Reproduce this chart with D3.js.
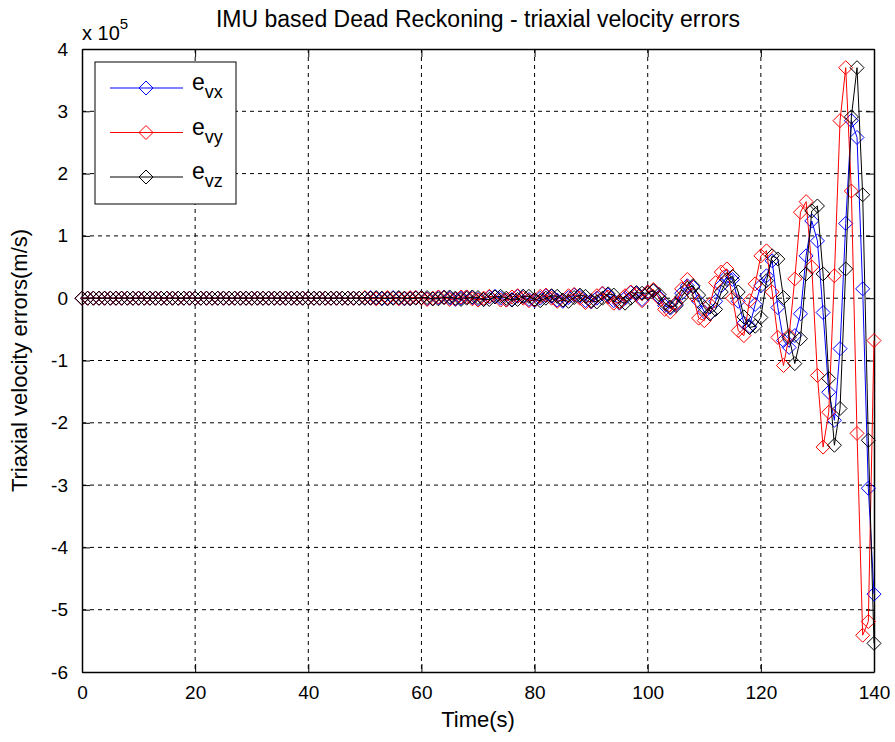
<!DOCTYPE html>
<html>
<head>
<meta charset="utf-8">
<script src="https://cdn.jsdelivr.net/npm/d3@7"></script>
<style>
  body { margin: 0; background: #fff; }
  text { font-family: "Liberation Sans", Arial, sans-serif; }
</style>
</head>
<body>
<script>
// time axis, one sample per second
var time = d3.range(0, 141);

// errors in units of 1e5 m/s
var evx = [
  0,0,0,0,0,0,0,0,0,0, 0,0,0,0,0,0,0,0,0,0,
  0,0,0,0,0,0,0,0,0,0, 0,0,0,0,0,0,0,0,0,0,
  0,0,0,0,0,0,0,0,0,0,
  0,0.01,0,-0.01,0,0.01,0,-0.01,0,0.01,
  0.01,-0.01,-0.01,0.01,0.02,0,-0.02,0,0.02,0.01,
  -0.02,-0.02,0.02,0.03,0,-0.03,-0.02,0.03,0.03,-0.02,
  -0.04,0,0.04,0.03,-0.03,-0.05,0.01,0.05,0.03,-0.04,
  -0.06,0,0.07,0.05,-0.04,-0.08,0,0.09,0.08,-0.02,
  0.1,0.12,0.02,-0.12,-0.16,-0.1,0.08,0.2,0.18,-0.05,
  -0.22,-0.25,-0.05,0.2,0.35,0.3,-0.05,-0.4,-0.45,-0.1,
  0.2,0.36,0.6,-0.15,-0.68,-0.79,-0.6,-0.25,0.68,1.24,
  0.92,-0.23,-1.51,-1.96,-0.81,1.2,2.85,2.58,0.15,-3.05,
  -4.75
];
var evy = [
  0,0,0,0,0,0,0,0,0,0, 0,0,0,0,0,0,0,0,0,0,
  0,0,0,0,0,0,0,0,0,0, 0,0,0,0,0,0,0,0,0,0,
  0,0,0,0,0,0,0,0,0,0,
  0.01,0,-0.01,0,0.01,0,-0.01,0,0.01,0.01,
  0,-0.02,0,0.02,0.01,-0.02,-0.01,0.02,0.02,-0.01,
  -0.03,0,0.03,0.02,-0.03,-0.03,0.02,0.04,0,-0.04,
  -0.03,0.03,0.05,0,-0.05,-0.03,0.04,0.06,0,-0.07,
  -0.05,0.04,0.08,0.02,-0.08,-0.07,0.04,0.1,0.06,-0.04,
  0.1,0.14,0,-0.18,-0.22,-0.08,0.15,0.3,0.05,-0.32,
  -0.36,-0.1,0.25,0.42,0.47,0,-0.52,-0.6,-0.04,0.23,
  0.68,0.76,0.1,-0.63,-1.08,-0.6,0.31,1.38,1.55,0.5,
  -1.24,-2.39,-1.83,0.36,2.85,3.7,1.72,-2.17,-5.41,-5.19,
  -0.68
];
var evz = [
  0,0,0,0,0,0,0,0,0,0, 0,0,0,0,0,0,0,0,0,0,
  0,0,0,0,0,0,0,0,0,0, 0,0,0,0,0,0,0,0,0,0,
  0,0,0,0,0,0,0,0,0,0,
  0,0,0.01,0,-0.01,0,0.01,0,-0.01,0,
  0.01,0.01,-0.01,-0.01,0.01,0.02,0,-0.02,0,0.02,
  0.01,-0.02,-0.02,0.02,0.03,0,-0.03,-0.02,0.03,0.03,
  -0.02,-0.04,0,0.04,0.03,-0.03,-0.05,0.01,0.05,0.03,
  -0.04,-0.06,0,0.07,0.05,-0.05,-0.08,0,0.09,0.08,
  0.08,0.12,0.06,-0.08,-0.14,-0.12,0.02,0.16,0.2,0.05,
  -0.15,-0.25,-0.18,0.1,0.3,0.35,0.1,-0.3,-0.47,-0.45,
  -0.31,0.28,0.68,0.63,0.01,-0.63,-1.05,-0.65,0.39,1.4,
  1.48,0.39,-1.29,-2.36,-1.77,0.47,2.91,3.7,1.66,-2.28,
  -5.54
];

var xTicks = [0, 20, 40, 60, 80, 100, 120, 140];
var yTicks = [-6, -5, -4, -3, -2, -1, 0, 1, 2, 3, 4];

var series = [
  { name: "vx", values: evx, color: "#0000ff" },
  { name: "vy", values: evy, color: "#ff0000" },
  { name: "vz", values: evz, color: "#000000" }
];

var width = 895, height = 742;
var pL = 82, pR = 874, pT = 49, pB = 672;

var svg = d3.select("body").append("svg")
    .attr("width", width)
    .attr("height", height);

var x = d3.scaleLinear().domain([0, 140]).range([pL, pR]);
var y = d3.scaleLinear().domain([-6, 4]).range([pB, pT]);

// grid
svg.append("g").selectAll("line")
    .data(xTicks.slice(1, -1))
  .enter().append("line")
    .attr("x1", function(d) { return x(d); })
    .attr("x2", function(d) { return x(d); })
    .attr("y1", pT).attr("y2", pB)
    .attr("stroke", "#000").attr("stroke-width", 1)
    .attr("stroke-dasharray", "4,4");

svg.append("g").selectAll("line")
    .data(yTicks.slice(1, -1))
  .enter().append("line")
    .attr("y1", function(d) { return y(d); })
    .attr("y2", function(d) { return y(d); })
    .attr("x1", pL).attr("x2", pR)
    .attr("stroke", "#000").attr("stroke-width", 1)
    .attr("stroke-dasharray", "4,4");

// axes with inward ticks
svg.append("g").attr("transform", "translate(0," + pB + ")")
    .call(d3.axisBottom(x).tickValues(xTicks).tickSizeInner(-8).tickSizeOuter(0).tickPadding(14));
svg.append("g").attr("transform", "translate(" + pL + ",0)")
    .call(d3.axisLeft(y).tickValues(yTicks).tickSizeInner(-8).tickSizeOuter(0).tickPadding(14)
      .tickFormat(function(d) { return d; }));
svg.append("g").attr("transform", "translate(0," + pT + ")")
    .call(d3.axisTop(x).tickValues(xTicks).tickSizeInner(-8).tickSizeOuter(0).tickFormat(""));
svg.append("g").attr("transform", "translate(" + pR + ",0)")
    .call(d3.axisRight(y).tickValues(yTicks).tickSizeInner(-8).tickSizeOuter(0).tickFormat(""));

svg.selectAll(".domain").attr("stroke", "#000").attr("stroke-width", 1.5);
svg.selectAll(".tick line").attr("stroke", "#000");
svg.selectAll(".tick text").attr("font-size", 19).attr("fill", "#000")
    .attr("font-family", "Liberation Sans, Arial, sans-serif");

// series
var diamond = "M0,-7L7,0L0,7L-7,0Z";
var line = d3.line()
    .x(function(d, i) { return x(time[i]); })
    .y(function(d) { return y(d); });

series.forEach(function(s) {
  var g = svg.append("g");
  g.append("path")
      .attr("d", line(s.values))
      .attr("fill", "none")
      .attr("stroke", s.color)
      .attr("stroke-width", 1);
  g.selectAll("path.m")
      .data(s.values)
    .enter().append("path")
      .attr("class", "m")
      .attr("d", diamond)
      .attr("transform", function(d, i) { return "translate(" + x(time[i]) + "," + y(d) + ")"; })
      .attr("fill", "none")
      .attr("stroke", s.color)
      .attr("stroke-width", 1);
});

// legend
var lg = svg.append("g").attr("transform", "translate(95,62)");
lg.append("rect").attr("width", 141).attr("height", 142)
    .attr("fill", "#fff").attr("stroke", "#000").attr("stroke-width", 1);
series.forEach(function(s, i) {
  var yy = 26 + i * 44.5;
  lg.append("line").attr("x1", 15).attr("x2", 88).attr("y1", yy).attr("y2", yy)
      .attr("stroke", s.color).attr("stroke-width", 1);
  lg.append("path").attr("d", diamond)
      .attr("transform", "translate(51," + yy + ")")
      .attr("fill", "none").attr("stroke", s.color);
  var t = lg.append("text").attr("x", 97).attr("y", yy + 2).attr("font-size", 23);
  t.append("tspan").text("e");
  t.append("tspan").attr("dy", 8).attr("font-size", 18).text(s.name);
});

// title & labels
svg.append("text")
    .attr("x", (pL + pR) / 2).attr("y", 27)
    .attr("text-anchor", "middle").attr("font-size", 23)
    .text("IMU based Dead Reckoning - triaxial velocity errors");

var ex = svg.append("text").attr("x", 82).attr("y", 40).attr("font-size", 20);
ex.append("tspan").text("x 10");
ex.append("tspan").attr("dy", -11).attr("font-size", 15).text("5");

svg.append("text")
    .attr("x", (pL + pR) / 2).attr("y", 727)
    .attr("text-anchor", "middle").attr("font-size", 22)
    .text("Time(s)");

svg.append("text")
    .attr("transform", "translate(27," + ((pT + pB) / 2) + ") rotate(-90)")
    .attr("text-anchor", "middle").attr("font-size", 22)
    .text("Triaxial velocity errors(m/s)");
</script>
</body>
</html>
